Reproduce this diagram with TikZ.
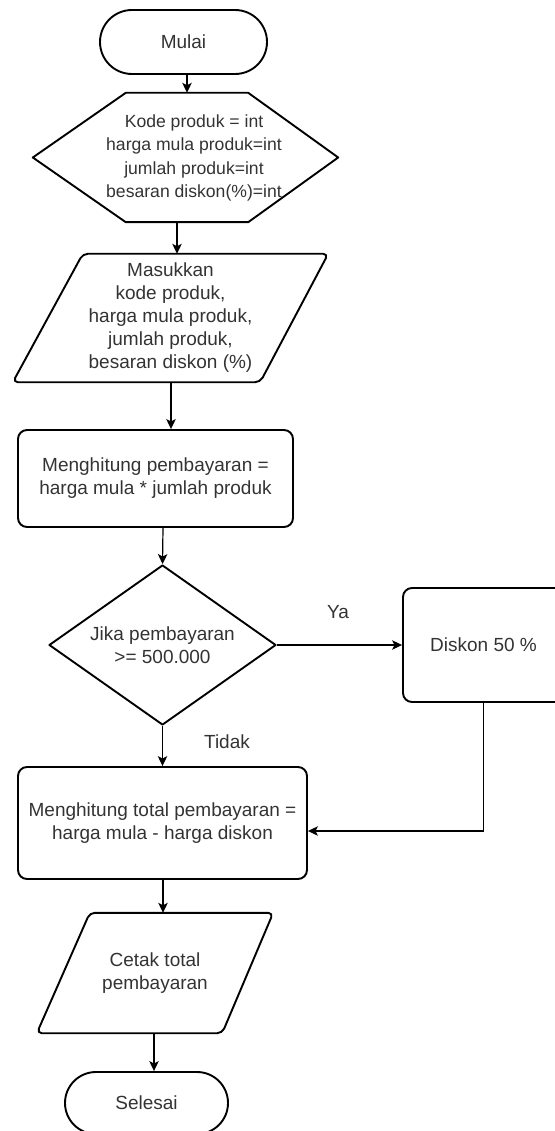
\documentclass[tikz,border=0pt]{standalone}
\usepackage{fontspec}
\setmainfont{Liberation Sans}
\usetikzlibrary{shapes.geometric,shapes.misc,arrows.meta}
\definecolor{textgray}{HTML}{333333}
\begin{document}
\begin{tikzpicture}[x=1pt,y=-1pt,
  basefont/.style={font=\fontsize{19}{23}\selectfont},
  shapeline/.style={draw=black, line width=1.9pt, line join=round},
  txt/.style={basefont, text=textgray, align=center, inner sep=0pt},
  terminal/.style={rounded rectangle, shapeline, txt},
  process/.style={rectangle, rounded corners=9pt, shapeline, txt},
  decision/.style={diamond, aspect=1.42, shapeline, txt},
  framebox/.style={rectangle, draw=none, inner sep=0pt, txt},
  conn/.style={draw=black, line width=1.2pt,
    -{Stealth[length=10pt, width=9.5pt, inset=2.5pt]}}
]
\useasboundingbox (0,0) rectangle (554,1131);

% start
\node[terminal, minimum width=167pt, minimum height=64pt] (mulai) at (183.5,42) {Mulai};

% declarations (hexagon)
\node[framebox, minimum width=305pt, minimum height=129pt] (decl) at (185.5,157.5) {};
\draw[shapeline] ([xshift=93pt]decl.north west) -- ([xshift=-90pt]decl.north east)
  -- (decl.east) -- ([xshift=-90pt]decl.south east) -- ([xshift=93pt]decl.south west)
  -- (decl.west) -- cycle;
\node[txt, font=\fontsize{17.6}{23.3}\selectfont] (decltext) at (194,158)
  {Kode produk = int\\harga mula produk=int\\jumlah produk=int\\besaran diskon(\%)=int};

% input (parallelogram)
\node[framebox, minimum width=315pt, minimum height=128pt] (input) at (170.5,318)
  {Masukkan\\kode produk,\\harga mula produk,\\jumlah produk,\\besaran diskon (\%)};
\draw[shapeline, rounded corners=5pt] (input.north) -- (input.north east)
  -- ([xshift=-68pt]input.south east) -- (input.south west)
  -- ([xshift=70pt]input.north west) -- (input.north);

% payment
\node[process, minimum width=275pt, minimum height=97pt] (calc) at (155.5,478.5)
  {Menghitung pembayaran =\\harga mula * jumlah produk};

% decision
\node[decision, minimum width=227pt, minimum height=160pt] (cond) at (162.5,645)
  {Jika pembayaran\\>= 500.000};

% discount
\node[process, minimum width=161pt, minimum height=114pt] (disc) at (483.5,645) {Diskon 50 \%};

% total
\node[process, minimum width=289pt, minimum height=112pt] (total) at (162.5,823)
  {Menghitung total pembayaran =\\harga mula - harga diskon};

% output (parallelogram)
\node[framebox, minimum width=236pt, minimum height=120pt] (output) at (155,973)
  {Cetak total\\pembayaran};
\draw[shapeline, rounded corners=5pt] (output.north) -- (output.north east)
  -- ([xshift=-51pt]output.south east) -- (output.south west)
  -- ([xshift=53pt]output.north west) -- (output.north);

% end
\node[terminal, minimum width=163pt, minimum height=62pt] (selesai) at (146.5,1103) {Selesai};

% branch labels
\node[txt] (ya) at (338,612) {Ya};
\node[txt] (tidak) at (227,742) {Tidak};

% connectors
\draw[conn] ([xshift=3.5pt]mulai.south) -- ([xshift=1.5pt]decl.north);
\draw[conn] ([xshift=-8.5pt]decl.south) -- ([xshift=6.5pt]input.north);
\draw[conn] ([xshift=0.5pt]input.south) -- ([xshift=15.5pt]calc.north);
\draw[conn] ([xshift=7.5pt]calc.south) -- (cond.north);
\draw[conn] (cond.east) -- (disc.west);
\draw[conn] (cond.south) -- (total.north);
\draw[conn] (disc.south) |- ([yshift=-8pt]total.east);
\draw[conn] ([xshift=0.5pt]total.south) -- ([xshift=8pt]output.north);
\draw[conn] ([xshift=-1pt]output.south) -- ([xshift=7.5pt]selesai.north);
\end{tikzpicture}
\end{document}
